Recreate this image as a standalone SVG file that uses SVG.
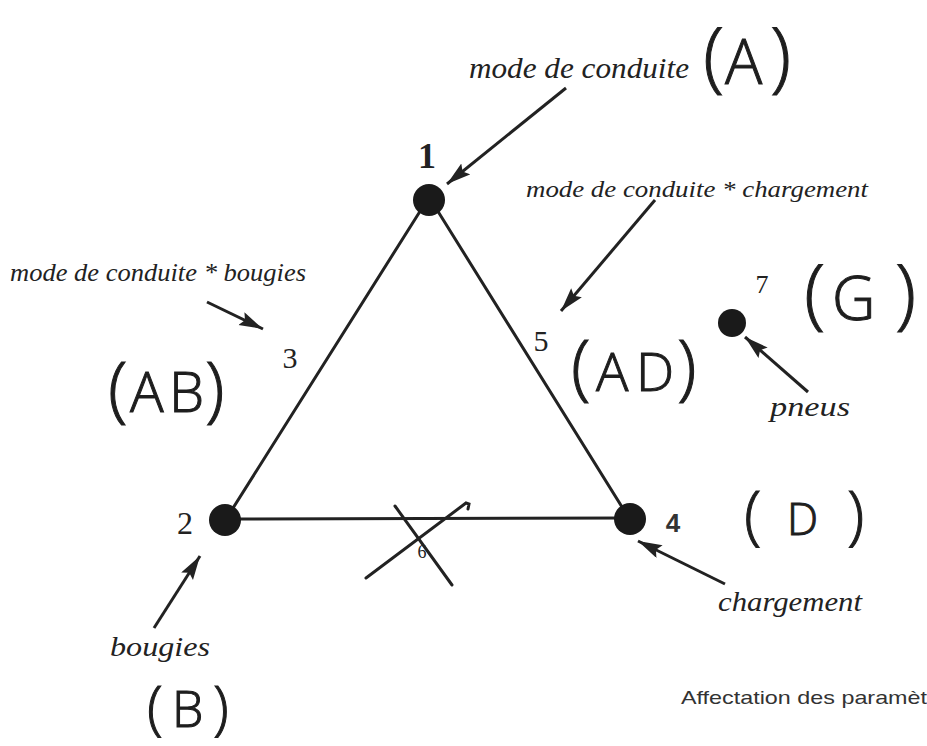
<svg xmlns="http://www.w3.org/2000/svg" width="927" height="746" viewBox="0 0 927 746">
<style>
.edge{stroke:#222;stroke-width:3;fill:none;stroke-linecap:round}
.arr{stroke:#222;stroke-width:3;fill:none;marker-end:url(#ah)}
.node{fill:#1a1a1a}
.it{font-family:"Liberation Serif",serif;font-style:italic;fill:#222}
.num{font-family:"Liberation Serif",serif;fill:#222}
.hand{font-family:"Open Sans",sans-serif;font-weight:300;fill:#1e1e1e;stroke:#1e1e1e;stroke-width:1}
.cap{font-family:"Liberation Sans",sans-serif;fill:#333}
</style>
<defs>
<marker id="ah" markerUnits="userSpaceOnUse" markerWidth="26" markerHeight="16" refX="24" refY="7" orient="auto">
<path d="M0,0 L24,7 L0,14 L4,7 z" fill="#222"/>
</marker>
</defs>
<rect width="927" height="746" fill="#fff"/>
<g id="connectors">
<line class="edge" x1="424" y1="205" x2="228" y2="516"/>
<line class="edge" x1="434" y1="205" x2="627" y2="515"/>
<line class="edge" x1="225" y1="519" x2="630" y2="518"/>
<path class="edge" d="M395,506 L452,585"/>
<path class="edge" d="M366,578 L466,503 L469,504 L468,509"/>
<line class="arr" x1="566" y1="88" x2="447" y2="184"/>
<line class="arr" x1="655" y1="200" x2="561" y2="311"/>
<line class="arr" x1="207" y1="302" x2="263" y2="329"/>
<line class="arr" x1="808" y1="392" x2="745" y2="337"/>
<line class="arr" x1="725" y1="584" x2="638" y2="541"/>
<line class="arr" x1="154" y1="628" x2="200" y2="556"/>
</g>
<g id="n1">
<circle class="node" cx="429" cy="200" r="16"/>
<text class="num" x="427" y="168" font-size="36" font-weight="bold" text-anchor="middle">1</text>
</g>
<g id="n2">
<circle class="node" cx="225" cy="520" r="16"/>
<text class="num" x="185" y="534" font-size="32" text-anchor="middle">2</text>
</g>
<g id="n3">
<text class="num" x="290" y="368" font-size="30" text-anchor="middle">3</text>
</g>
<g id="n4">
<circle class="node" cx="630" cy="519" r="16"/>
<text class="cap" x="673" y="532" font-size="26" font-weight="bold" text-anchor="middle">4</text>
</g>
<g id="n5">
<text class="num" x="541" y="351" font-size="30" text-anchor="middle">5</text>
</g>
<g id="n6">
<text class="num" x="422" y="558" font-size="18" text-anchor="middle">6</text>
</g>
<g id="n7">
<circle class="node" cx="732" cy="323" r="14"/>
<text class="num" x="762" y="293" font-size="26" text-anchor="middle">7</text>
</g>
<g id="labels">
<text class="it" x="469" y="78" font-size="29" textLength="220" lengthAdjust="spacingAndGlyphs">mode de conduite</text>
<text class="it" x="526" y="197" font-size="24" textLength="342" lengthAdjust="spacingAndGlyphs">mode de conduite *  chargement</text>
<text class="it" x="10" y="281" font-size="26" textLength="296" lengthAdjust="spacingAndGlyphs">mode de conduite * bougies</text>
<text class="it" x="770" y="416" font-size="27" textLength="80" lengthAdjust="spacingAndGlyphs">pneus</text>
<text class="it" x="718" y="611" font-size="28" textLength="144" lengthAdjust="spacingAndGlyphs">chargement</text>
<text class="it" x="110" y="656" font-size="27" textLength="100" lengthAdjust="spacingAndGlyphs">bougies</text>
<text class="cap" x="681" y="704" font-size="19" textLength="246" lengthAdjust="spacingAndGlyphs">Affectation des paramèt</text>
</g>
<g id="hA">
<text class="hand" y="83"><tspan x="703" font-size="78">(</tspan><tspan x="725" y="84" font-size="62">A</tspan><tspan x="770" y="83" font-size="78">)</tspan></text>
</g>
<g id="hAB">
<text class="hand" y="414"><tspan x="108" font-size="72">(</tspan><tspan x="130" y="412" font-size="56">A</tspan><tspan x="169" font-size="56">B</tspan><tspan x="205" y="414" font-size="72">)</tspan></text>
</g>
<g id="hAD">
<text class="hand" y="392"><tspan x="571" font-size="72">(</tspan><tspan x="596" y="391" font-size="54">A</tspan><tspan x="636" font-size="54">D</tspan><tspan x="677" y="392" font-size="72">)</tspan></text>
</g>
<g id="hG">
<text class="hand" y="320"><tspan x="804" font-size="78">(</tspan><tspan x="832" font-size="60">G</tspan><tspan x="895" font-size="78">)</tspan></text>
</g>
<g id="hD">
<text class="hand" y="537"><tspan x="744" font-size="64">(</tspan><tspan x="787" y="535" font-size="44">D</tspan><tspan x="847" y="537" font-size="64">)</tspan></text>
</g>
<g id="hB">
<text class="hand" y="728"><tspan x="147" font-size="58">(</tspan><tspan x="172" y="727" font-size="50">B</tspan><tspan x="213" y="728" font-size="58">)</tspan></text>
</g>
</svg>
